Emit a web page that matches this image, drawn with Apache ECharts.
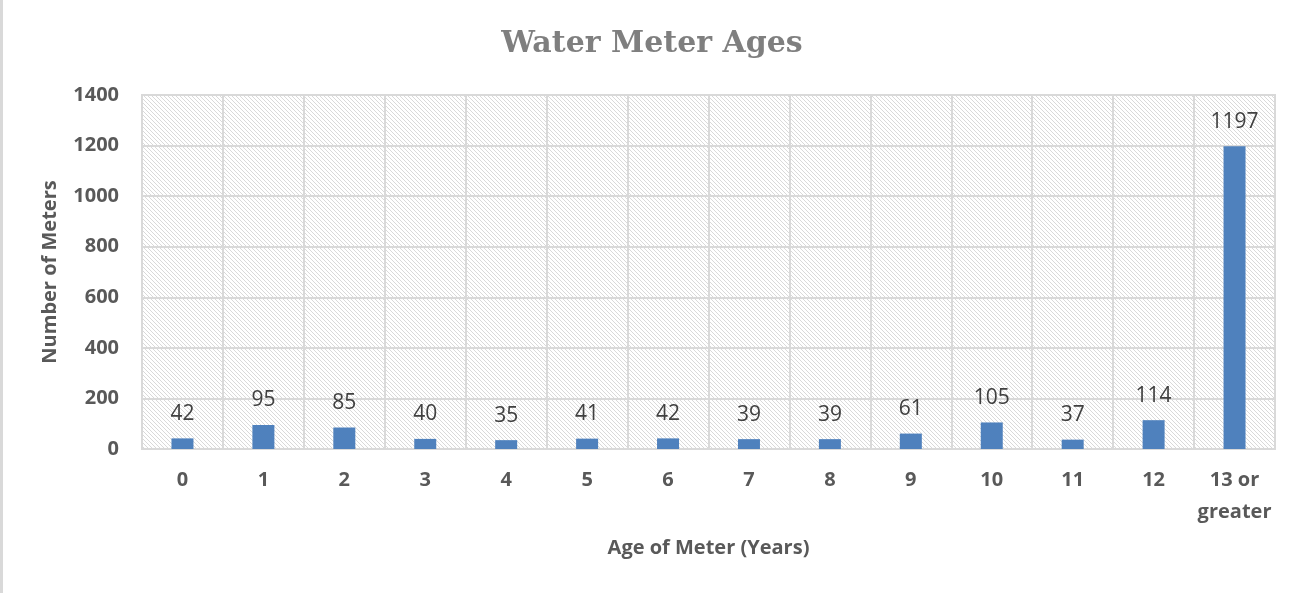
<!DOCTYPE html>
<html>
<head>
<meta charset="utf-8">
<script src="https://cdn.jsdelivr.net/npm/echarts@6/dist/echarts.min.js"></script>
<style>
  html, body { margin: 0; padding: 0; background: #fff; }
  #main { width: 1304px; height: 593px; }
</style>
</head>
<body>
<div id="main"></div>
<script>
var ages = ['0', '1', '2', '3', '4', '5', '6', '7', '8', '9', '10', '11', '12', '13 or\ngreater'];
var meterCounts = [42, 95, 85, 40, 35, 41, 42, 39, 39, 61, 105, 37, 114, 1197];

// diagonal hatch tile for the plot background
var tile = document.createElement('canvas');
tile.width = 4;
tile.height = 4;
var ctx = tile.getContext('2d');
ctx.fillStyle = '#fff';
ctx.fillRect(0, 0, 4, 4);
ctx.fillStyle = '#d9d9d9';
for (var i = 0; i < 4; i++) {
    ctx.fillRect(i, i, 1, 1);
}

var myChart = echarts.init(document.getElementById('main'));
var option = {
    backgroundColor: '#fff',
    title: {
        text: 'Water Meter Ages',
        left: 'center',
        top: 24,
        textStyle: {
            fontFamily: 'DejaVu Serif',
            fontWeight: 'bold',
            fontSize: 30,
            color: '#7f7f7f'
        }
    },
    graphic: [{
        type: 'rect',
        shape: { x: 0, y: 0, width: 3, height: 593 },
        style: { fill: '#d9d9d9' }
    }],
    grid: {
        left: 142,
        right: 29,
        top: 95,
        bottom: 144,
        show: true,
        backgroundColor: { image: tile, repeat: 'repeat' },
        borderColor: '#d9d9d9',
        borderWidth: 2
    },
    xAxis: {
        type: 'category',
        data: ages,
        name: 'Age of Meter (Years)',
        nameLocation: 'middle',
        nameGap: 89,
        nameTextStyle: {
            fontFamily: 'Open Sans',
            fontWeight: 'bold',
            fontSize: 20,
            color: '#595959'
        },
        axisLine: { lineStyle: { color: '#d9d9d9', width: 2 } },
        axisTick: { show: false },
        axisLabel: {
            interval: 0,
            margin: 15,
            fontFamily: 'Open Sans',
            fontWeight: 'bold',
            fontSize: 20,
            color: '#595959',
            lineHeight: 32
        },
        splitLine: { show: true, interval: 0, lineStyle: { color: '#d9d9d9', width: 2 } }
    },
    yAxis: {
        type: 'value',
        min: 0,
        max: 1400,
        interval: 200,
        name: 'Number of Meters',
        nameLocation: 'middle',
        nameGap: 82,
        nameTextStyle: {
            fontFamily: 'Open Sans',
            fontWeight: 'bold',
            fontSize: 20,
            color: '#595959'
        },
        axisLine: { show: false },
        axisTick: { show: false },
        axisLabel: {
            margin: 23,
            formatter: function (v) { return String(v); },
            fontFamily: 'Open Sans',
            fontWeight: 'bold',
            fontSize: 20,
            color: '#595959'
        },
        splitLine: { lineStyle: { color: '#d9d9d9', width: 2 } }
    },
    series: [{
        type: 'bar',
        data: meterCounts,
        barWidth: 22,
        itemStyle: { color: '#4f81bd' },
        label: {
            show: true,
            position: 'top',
            distance: 14,
            fontFamily: 'Open Sans',
            fontSize: 21,
            color: '#404040'
        }
    }]
};
myChart.setOption(option);
</script>
</body>
</html>
